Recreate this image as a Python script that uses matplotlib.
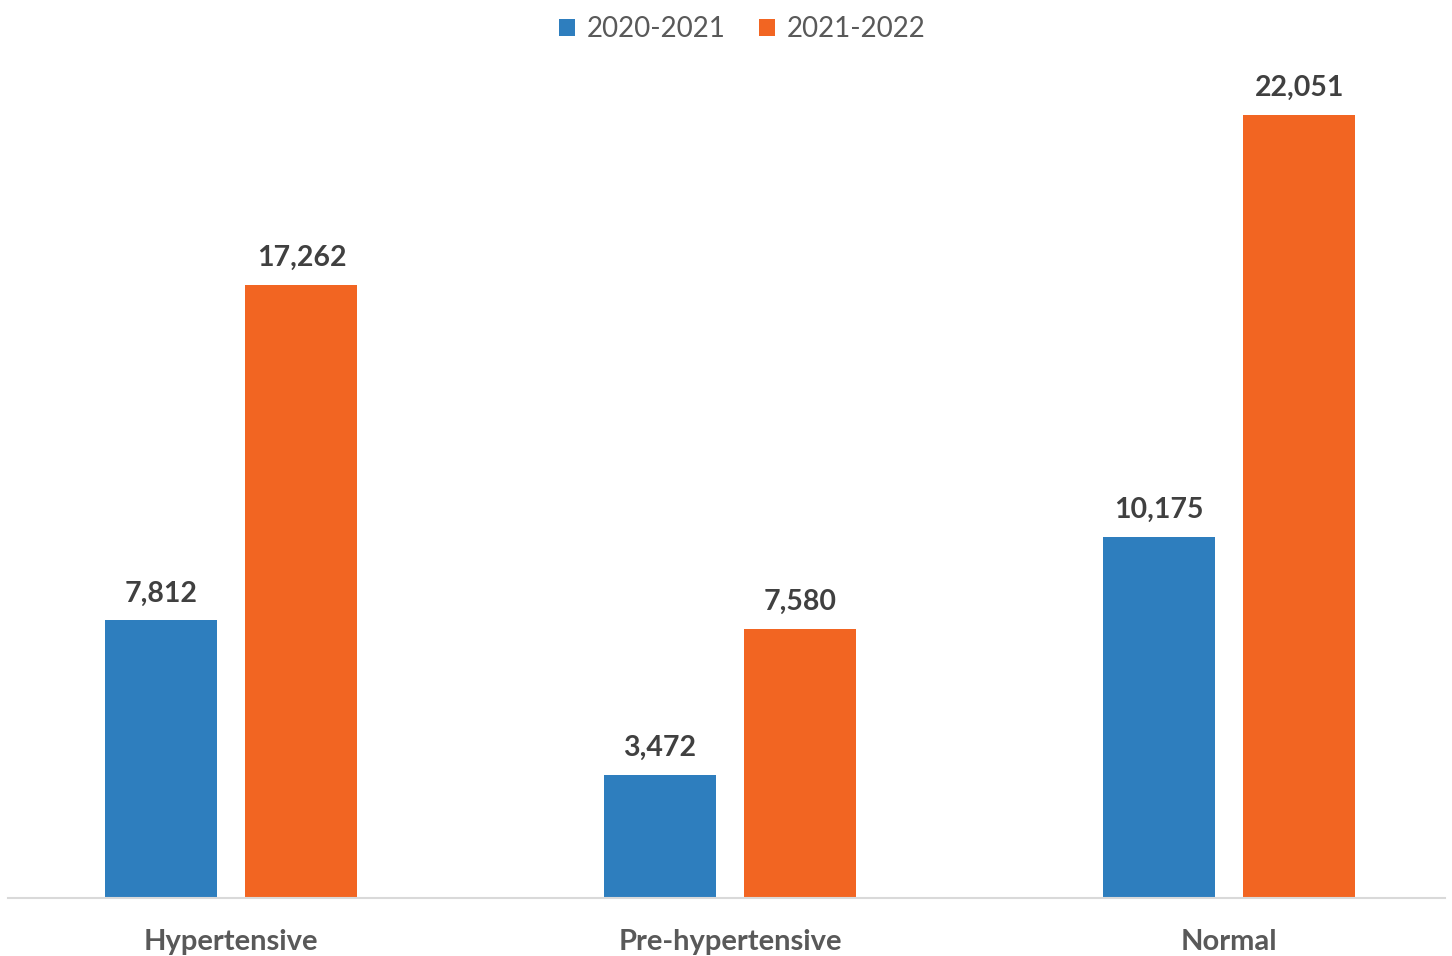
import numpy as np
import matplotlib.pyplot as plt
from matplotlib.ticker import NullLocator

plt.rcParams['font.family'] = ['Lato', 'DejaVu Sans']

# blood pressure category counts per survey period
categories = ['Hypertensive', 'Pre-hypertensive', 'Normal']
periods = ['2020-2021', '2021-2022']
counts_2020_21 = [7812, 3472, 10175]
counts_2021_22 = [17262, 7580, 22051]

colors = ['#2E7EBE', '#F26522']

fig = plt.figure(figsize=(14.52, 9.56), dpi=100)
ax = fig.add_axes([0.0055, 0.0607, 0.9897, 0.9289])

x = np.arange(len(categories))
width = 0.224
offset = 0.141

bars1 = ax.bar(x - offset, counts_2020_21, width, color=colors[0], label=periods[0])
bars2 = ax.bar(x + offset, counts_2021_22, width, color=colors[1], label=periods[1])

for bars in (bars1, bars2):
    for b in bars:
        h = b.get_height()
        ax.annotate(f'{h:,.0f}', (b.get_x() + b.get_width() / 2, h),
                    xytext=(0, 10), textcoords='offset points',
                    ha='center', va='bottom', fontsize=20.5, fontweight='bold',
                    color='#404040')

ax.set_xlim(-0.447, 2.433)
ax.set_ylim(0, 25000)
ax.set_xticks(x)
ax.set_xticklabels(categories, fontsize=21, fontweight='bold', color='#595959')
ax.tick_params(axis='x', length=0, pad=22)
ax.yaxis.set_major_locator(NullLocator())

for side in ('top', 'right', 'left'):
    ax.spines[side].set_visible(False)
ax.spines['bottom'].set_color('#D9D9D9')
ax.spines['bottom'].set_linewidth(1.5)

fig.legend(loc='upper center', bbox_to_anchor=(0.511, 1.009), ncol=2,
           frameon=False, fontsize=20, handlelength=0.6, handleheight=0.6,
           handletextpad=0.4, columnspacing=1.2, labelcolor='#595959')

fig.savefig('out.png', dpi=100)
